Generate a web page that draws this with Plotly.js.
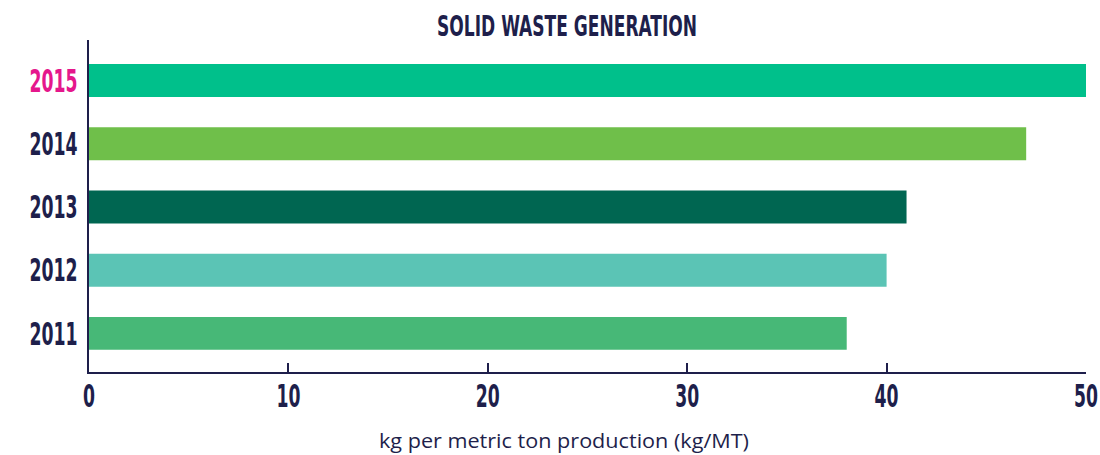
<!DOCTYPE html>
<html>
<head>
<meta charset="utf-8">
<script src="https://cdn.plot.ly/plotly-3.0.1.min.js"></script>
<style>html,body{margin:0;padding:0;background:#fff;}#chart{width:1100px;height:455px;}</style>
</head>
<body>
<div id="chart"></div>
<script>
const years = ['2011', '2012', '2013', '2014', '2015'];
const values = [38, 40, 41, 47, 50];
const barColors = ['#47b877', '#5bc4b5', '#006651', '#6fbf4a', '#00c08b'];
const yTickLabels = ['2011', '2012', '2013', '2014', '<span style="color:#e5178c">2015</span>'];
const xTickVals = [0, 10, 20, 30, 40, 50];

const navy = '#1e1f4b';
const condensed = '"DejaVu Sans Condensed", "DejaVu Sans", sans-serif';

const trace = {
  type: 'bar',
  orientation: 'h',
  x: values,
  y: years,
  marker: {color: barColors},
  hoverinfo: 'x+y'
};

const layout = {
  width: 1100,
  height: 455,
  margin: {l: 89, r: 14, t: 40, b: 83},
  paper_bgcolor: '#ffffff',
  plot_bgcolor: '#ffffff',
  bargap: 0.48,
  showlegend: false,
  title: {
    text: 'SOLID WASTE GENERATION',
    font: {family: condensed, size: 28, color: navy, weight: 'bold'},
    xref: 'container', x: 0.5155, xanchor: 'center',
    yref: 'container', y: 1 - 26 / 455, yanchor: 'middle'
  },
  xaxis: {
    range: [0, 50],
    tickvals: xTickVals,
    ticktext: xTickVals.map(String),
    showgrid: false,
    zeroline: false,
    showline: true,
    linecolor: navy,
    linewidth: 2,
    ticks: 'inside',
    ticklen: 9,
    tickwidth: 2,
    tickcolor: navy,
    ticklabeloverflow: 'allow',
    tickfont: {family: condensed, size: 32, color: navy, weight: 'bold'},
    ticklabelstandoff: -5,
    title: {
      text: 'kg per metric ton production (kg/MT)',
      font: {family: '"Open Sans", Lato, sans-serif', size: 20, color: navy},
      standoff: 20
    },
    fixedrange: true
  },
  yaxis: {
    type: 'category',
    range: [-0.61, 4.64],
    tickvals: years,
    ticktext: yTickLabels,
    showgrid: false,
    zeroline: false,
    showline: true,
    linecolor: navy,
    linewidth: 2,
    ticks: '',
    tickfont: {family: condensed, size: 32, color: navy, weight: 'bold'},
    ticklabelstandoff: 3,
    fixedrange: true
  }
};

function condense(sel, factor) {
  document.querySelectorAll(sel).forEach(function (el) {
    const w = el.getComputedTextLength();
    if (w > 0) {
      el.setAttribute('textLength', (w * factor).toFixed(1));
      el.setAttribute('lengthAdjust', 'spacingAndGlyphs');
    }
  });
}

Plotly.newPlot('chart', [trace], layout, {displayModeBar: false, staticPlot: true}).then(function () {
  condense('#chart .ytick text, #chart .xtick text', 0.6);
  const t = document.querySelector('#chart .gtitle');
  if (t) {
    condense('#chart .gtitle', 260 / t.getComputedTextLength());
  }
  const xt = document.querySelector('#chart .xtitle');
  if (xt) {
    xt.setAttribute('x', '564');
    condense('#chart .xtitle', 370 / xt.getComputedTextLength());
  }
});
</script>
</body>
</html>
